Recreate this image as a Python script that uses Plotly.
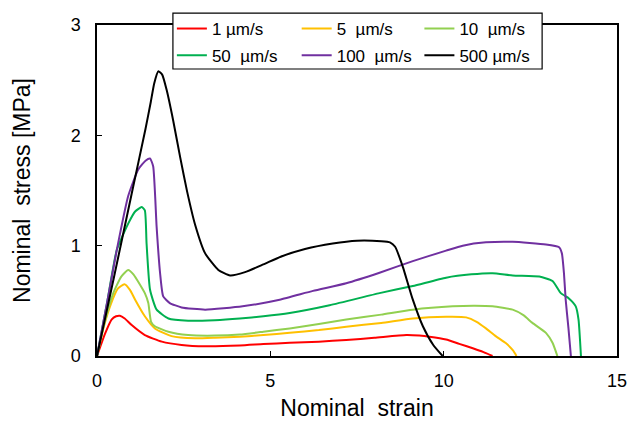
import plotly.graph_objects as go

names = ["1\u00a0µm/s", "5\u00a0\u00a0µm/s", "10\u00a0\u00a0µm/s",
         "50\u00a0\u00a0µm/s", "100\u00a0\u00a0µm/s", "500\u00a0µm/s"]
colors = ["#FF0000", "#FFC000", "#92D050", "#00B050", "#7030A0", "#000000"]

x_1 = [0, 0.23, 0.42, 0.55, 0.66, 0.8, 1.0, 1.38, 1.87, 2.44, 3.12, 4.12, 4.8, 5.56, 6.4, 7.19, 8.0, 8.92, 9.3, 9.59, 10.07, 10.45, 10.84, 11.15, 11.41]
y_1 = [0, 0.2, 0.33, 0.36, 0.365, 0.34, 0.28, 0.19, 0.13, 0.10, 0.088, 0.095, 0.108, 0.12, 0.13, 0.145, 0.165, 0.19, 0.185, 0.175, 0.15, 0.11, 0.07, 0.035, 0]

x_5 = [0, 0.2, 0.4, 0.6, 0.79, 0.95, 1.10, 1.38, 1.67, 2.15, 2.83, 3.4, 4.12, 4.8, 5.56, 6.4, 7.19, 8.2, 9.11, 10.07, 10.65, 10.95, 11.22, 11.5, 11.8, 12.0, 12.1]
y_5 = [0, 0.27, 0.47, 0.61, 0.65, 0.6, 0.51, 0.36, 0.25, 0.18, 0.16, 0.165, 0.175, 0.19, 0.21, 0.235, 0.265, 0.3, 0.34, 0.355, 0.35, 0.31, 0.25, 0.18, 0.115, 0.05, 0]

x_10 = [0, 0.2, 0.47, 0.7, 0.90, 1.05, 1.38, 1.48, 1.56, 1.67, 2.06, 2.63, 3.4, 4.12, 4.8, 5.56, 6.4, 7.19, 8.2, 9.11, 10.26, 10.9, 11.41, 11.99, 12.3, 12.56, 12.95, 13.14, 13.28]
y_10 = [0, 0.28, 0.57, 0.72, 0.78, 0.74, 0.57, 0.48, 0.31, 0.27, 0.22, 0.19, 0.185, 0.195, 0.22, 0.25, 0.29, 0.33, 0.375, 0.42, 0.45, 0.455, 0.45, 0.42, 0.37, 0.3, 0.21, 0.12, 0]

x_50 = [0, 0.3, 0.57, 0.9, 1.1, 1.29, 1.38, 1.43, 1.53, 1.72, 2.06, 2.63, 3.4, 4.12, 4.8, 5.56, 6.71, 8.15, 9.11, 10.07, 10.8, 11.41, 11.99, 12.76, 13.14, 13.38, 13.62, 13.81, 13.89, 13.96]
y_50 = [0, 0.5, 0.96, 1.2, 1.31, 1.35, 1.32, 1.02, 0.6, 0.42, 0.34, 0.32, 0.325, 0.34, 0.36, 0.39, 0.46, 0.57, 0.635, 0.71, 0.74, 0.75, 0.73, 0.72, 0.68, 0.57, 0.52, 0.45, 0.33, 0]

x_100 = [0, 0.3, 0.57, 0.9, 1.19, 1.4, 1.53, 1.62, 1.72, 1.82, 1.91, 2.1, 2.44, 3.12, 4.2, 5.27, 6.23, 7.19, 8.15, 9.11, 10.07, 10.55, 11.22, 11.99, 12.95, 13.33, 13.41, 13.47, 13.52, 13.6, 13.67]
y_100 = [0, 0.5, 0.96, 1.45, 1.69, 1.77, 1.79, 1.72, 1.17, 0.75, 0.54, 0.48, 0.44, 0.42, 0.45, 0.51, 0.59, 0.66, 0.755, 0.86, 0.955, 1.0, 1.03, 1.035, 1.01, 0.985, 0.93, 0.75, 0.51, 0.25, 0]

x_500 = [0, 0.5, 1.0, 1.4, 1.55, 1.65, 1.77, 1.88, 2.01, 2.2, 2.4, 2.6, 2.83, 3.12, 3.5, 3.84, 4.27, 4.8, 5.3, 6.0, 6.8, 7.5, 8.2, 8.45, 8.6, 8.82, 9.1, 9.4, 9.7, 9.97]
y_500 = [0, 0.73, 1.47, 2.06, 2.3, 2.47, 2.58, 2.55, 2.41, 2.13, 1.8, 1.49, 1.19, 0.93, 0.78, 0.73, 0.76, 0.83, 0.9, 0.97, 1.02, 1.045, 1.04, 1.03, 0.99, 0.81, 0.52, 0.27, 0.1, 0]

xs = [x_1, x_5, x_10, x_50, x_100, x_500]
ys = [y_1, y_5, y_10, y_50, y_100, y_500]

x_ticks = [0, 5, 10, 15]
y_ticks = [0, 1, 2, 3]

legend_ids = ["legend", "legend2", "legend3", "legend4", "legend5", "legend6"]
leg_x = [0.144, 0.384, 0.62, 0.144, 0.384, 0.62]
leg_y = [0.988, 0.988, 0.988, 0.907, 0.907, 0.907]

fig = go.Figure()
for i, (xv, yv) in enumerate(zip(xs, ys)):
    fig.add_trace(go.Scatter(
        x=xv, y=yv, mode="lines", name=names[i],
        line=dict(color=colors[i], width=2, shape="spline", smoothing=0.5),
        legend=legend_ids[i],
    ))

font_family = "Liberation Sans, Arial, sans-serif"
legends = {}
for i, lid in enumerate(legend_ids):
    legends[lid] = dict(
        x=leg_x[i], y=leg_y[i], xanchor="left", yanchor="middle",
        orientation="v", bgcolor="rgba(0,0,0,0)", borderwidth=0,
        font=dict(family=font_family, size=17, color="black"),
        itemclick=False, itemdoubleclick=False,
    )

fig.update_layout(
    template="none",
    width=630, height=421,
    margin=dict(l=97, r=13, t=25, b=65, autoexpand=False),
    paper_bgcolor="white", plot_bgcolor="white",
    font=dict(family=font_family, size=18, color="black"),
    showlegend=True,
    xaxis=dict(
        range=[0, 15], tickvals=x_ticks, ticks="inside", ticklen=5,
        tickcolor="black", showline=True, linecolor="black", linewidth=1.5,
        mirror=True, showgrid=False, zeroline=False, automargin=False,
        ticklabelstandoff=8,
        title=dict(text="Nominal\u00a0\u00a0strain", font=dict(size=23), standoff=11),
        tickfont=dict(size=18),
    ),
    yaxis=dict(
        range=[0, 3], tickvals=y_ticks, ticks="inside", ticklen=5,
        tickcolor="black", showline=True, linecolor="black", linewidth=1.5,
        mirror=True, showgrid=False, zeroline=False, automargin=False,
        ticklabelstandoff=11,
        title=dict(text="Nominal\u00a0\u00a0stress [MPa]", font=dict(size=23), standoff=34),
        tickfont=dict(size=18),
    ),
    shapes=[dict(
        type="rect", xref="paper", yref="paper",
        x0=0.146, x1=0.856, y0=0.867, y1=1.036,
        fillcolor="white", line=dict(color="black", width=1.2), layer="above",
    )],
    **legends,
)

fig.write_html(
    "out.html",
    config={"displayModeBar": False},
    post_script="document.body.style.margin='0';document.body.style.overflow='hidden';",
)
